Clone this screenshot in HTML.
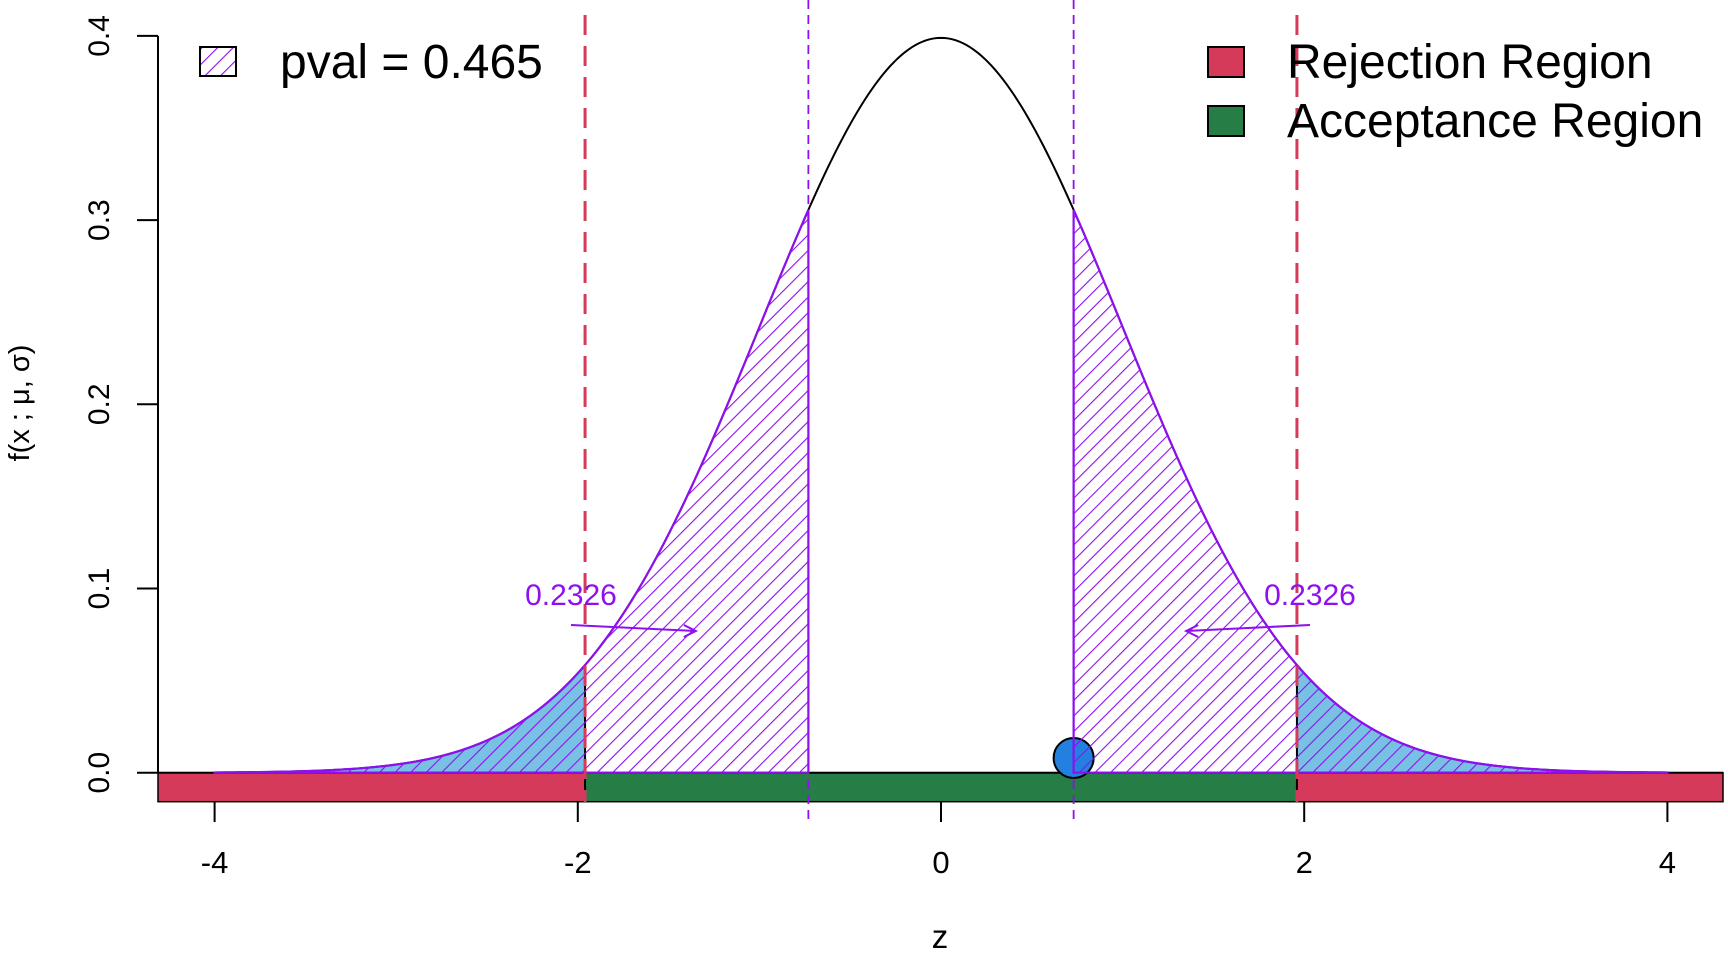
<!DOCTYPE html>
<html><head><meta charset="utf-8">
<style>
html,body{margin:0;padding:0;background:#fff;}
svg{display:block;font-family:"Liberation Sans",Arial,sans-serif;}
</style></head>
<body>
<svg id="chart" width="1728" height="960" viewBox="0 0 1728 960" xmlns="http://www.w3.org/2000/svg">
<defs>
<pattern id="hatch" patternUnits="userSpaceOnUse" width="11" height="11" patternTransform="rotate(45)">
<line x1="0" y1="0" x2="0" y2="11" stroke="#8f10ef" stroke-width="2.2"/>
</pattern>
</defs>
</svg>
<script>
const xTicks = [-4, -2, 0, 2, 4];
const yTicks = [0.0, 0.1, 0.2, 0.3, 0.4];
const yTickLabels = ["0.0", "0.1", "0.2", "0.3", "0.4"];
const critValues = [-1.96, 1.96];
const zObs = [0.7303];
const pvalLabel = ["pval = 0.465"];
const tailProb = [0.2326, 0.2326];
const legendLabels = ["Rejection Region", "Acceptance Region"];

const NS = "http://www.w3.org/2000/svg";
const svg = document.getElementById("chart");
const X0 = 941, XS = 181.6, Y0 = 772.7, YS = 1842;
const sx = v => X0 + v * XS;
const sy = v => Y0 - v * YS;
const pdf = z => Math.exp(-z * z / 2) / Math.sqrt(2 * Math.PI);
const RED = "#d63a5a", GREEN = "#267d46", BLUE = "#78c1e4", PURPLE = "#8f10ef";

function mk(tag, attrs, parent) {
  const el = document.createElementNS(NS, tag);
  for (const k in attrs) el.setAttribute(k, attrs[k]);
  (parent || svg).appendChild(el);
  return el;
}
function areaPath(a, b) {
  let d = `M${sx(a)},${sy(0)}`;
  const n = 120;
  for (let i = 0; i <= n; i++) { const z = a + (b - a) * i / n; d += ` L${sx(z).toFixed(2)},${sy(pdf(z)).toFixed(2)}`; }
  d += ` L${sx(b)},${sy(0)} Z`;
  return d;
}
const zo = Math.abs(zObs[0]);
const cl = critValues[0], cr = critValues[1];

let el = mk("path", {d: areaPath(-4, cl), fill: BLUE, stroke: "none"});


el = mk("path", {d: areaPath(cr, 4), fill: BLUE, stroke: "none"});



el = mk("rect", {x: 158, y: Y0, width: sx(cl) - 158, height: 29, fill: RED, stroke: "#000", "stroke-width": 1.5});


el = mk("rect", {x: sx(cl), y: Y0, width: sx(cr) - sx(cl), height: 29, fill: GREEN, stroke: "#000", "stroke-width": 1.5});


el = mk("rect", {x: sx(cr), y: Y0, width: 1723 - sx(cr), height: 29, fill: RED, stroke: "#000", "stroke-width": 1.5});



el = mk("line", {x1: 158, y1: Y0, x2: 1723, y2: Y0, stroke: "#000", "stroke-width": 2});



critValues.forEach(c => {
  el = mk("line", {x1: sx(c), y1: sy(0) + 29, x2: sx(c), y2: sy(pdf(c)), stroke: "#000", "stroke-width": 2});
  
  
});

el = mk("circle", {cx: sx(zObs[0]), cy: sy(0.008), r: 20, fill: "#2281e0", stroke: "#000", "stroke-width": 2});



let cd = "";
for (let i = 0; i <= 400; i++) { const z = -4 + 8 * i / 400; cd += (i ? " L" : "M") + sx(z).toFixed(2) + "," + sy(pdf(z)).toFixed(2); }
el = mk("path", {d: cd, fill: "none", stroke: "#000", "stroke-width": 2});



el = mk("path", {d: areaPath(-4, -zo), fill: "url(#hatch)", stroke: PURPLE, "stroke-width": 2.2});


el = mk("path", {d: areaPath(zo, 4), fill: "url(#hatch)", stroke: PURPLE, "stroke-width": 2.2});



critValues.forEach(c => {
  el = mk("line", {x1: sx(c), y1: 15, x2: sx(c), y2: 802, stroke: RED, "stroke-width": 3, "stroke-dasharray": "20,11"});
  
  
});
[-zo, zo].forEach(c => {
  el = mk("line", {x1: sx(c), y1: 0, x2: sx(c), y2: 820, stroke: PURPLE, "stroke-width": 1.8, "stroke-dasharray": "9,6"});
  
  
});

const annX = [571, 1310];
const arrowEnd = [-1.35, 1.35];
tailProb.forEach((p, i) => {
  el = mk("text", {x: annX[i], y: 605, "text-anchor": "middle", "font-size": 30, fill: PURPLE});
  el.textContent = p.toFixed(4);
  
  
  const x1 = annX[i], y1 = 625, x2 = sx(arrowEnd[i]), y2 = 631;
  el = mk("line", {x1, y1, x2, y2, stroke: PURPLE, "stroke-width": 2});
  
  
  const dir = Math.sign(x2 - x1);
  el = mk("path", {d: `M${x2 - dir * 12},${y2 - 6} L${x2},${y2} L${x2 - dir * 12},${y2 + 6}`, fill: "none", stroke: PURPLE, "stroke-width": 2});
  
  
});

el = mk("line", {x1: 158, y1: sy(0.4), x2: 158, y2: sy(0), stroke: "#000", "stroke-width": 2});


yTicks.forEach((v, i) => {
  el = mk("line", {x1: 137, y1: sy(v), x2: 158, y2: sy(v), stroke: "#000", "stroke-width": 2});
  
  
  el = mk("text", {x: 0, y: 0, "text-anchor": "middle", "font-size": 30, transform: `translate(109,${sy(v)}) rotate(-90)`});
  el.textContent = yTickLabels[i];
  
  
});
el = mk("text", {x: 0, y: 0, "text-anchor": "middle", "font-size": 29, transform: "translate(29,403) rotate(-90)"});
el.textContent = "f(x ; \u03bc, \u03c3)";



xTicks.forEach(v => {
  el = mk("line", {x1: sx(v), y1: 802, x2: sx(v), y2: 822, stroke: "#000", "stroke-width": 2});
  
  
  el = mk("text", {x: sx(v), y: 873, "text-anchor": "middle", "font-size": 31});
  el.textContent = String(v);
  
  
});
el = mk("text", {x: 940, y: 948, "text-anchor": "middle", "font-size": 33});
el.textContent = "z";



el = mk("rect", {x: 200, y: 47, width: 36, height: 29, fill: "url(#hatch)", stroke: "#000", "stroke-width": 2});


el = mk("text", {x: 280, y: 78, "font-size": 48});
el.textContent = pvalLabel[0];



const legColors = [RED, GREEN];
legendLabels.forEach((lab, i) => {
  el = mk("rect", {x: 1208, y: 47 + i * 59, width: 36, height: 30, fill: legColors[i], stroke: "#000", "stroke-width": 2});
  
  
  el = mk("text", {x: 1287, y: 78 + i * 59, "font-size": 48});
  el.textContent = lab;
  
  
});
</script>
</body></html>
